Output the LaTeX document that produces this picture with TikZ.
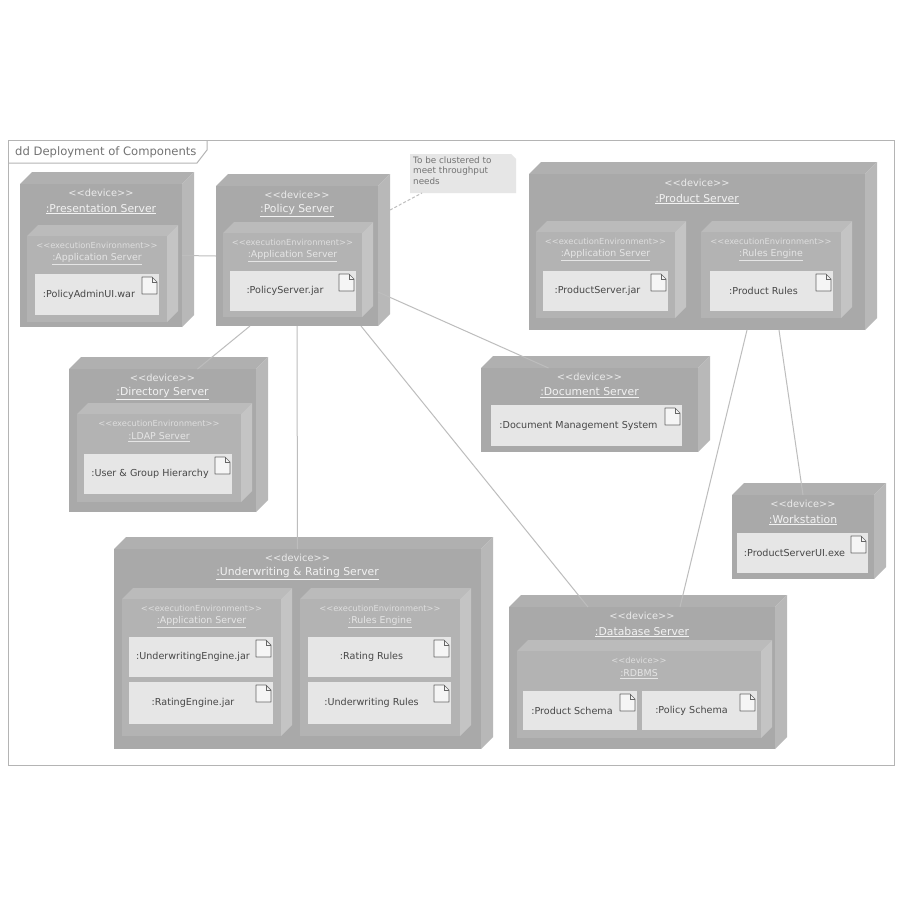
\documentclass[tikz,border=0pt]{standalone}
\usepackage{fontspec}
\setmainfont{DejaVu Sans}[Ligatures=NoCommon]
\definecolor{devF}{HTML}{A9A9A9}
\definecolor{devT}{HTML}{B0B0B0}
\definecolor{devS}{HTML}{B8B8B8}
\definecolor{envF}{HTML}{B3B3B3}
\definecolor{envT}{HTML}{BBBBBB}
\definecolor{envS}{HTML}{C4C4C4}
\definecolor{artF}{HTML}{E6E6E6}
\definecolor{lineC}{HTML}{BDBDBD}
\definecolor{frameC}{HTML}{B4B4B4}
\newcommand{\stereo}[1]{<{}<#1>{}>}
\tikzset{
  boxnode/.style={inner sep=0pt,outer sep=0pt,draw=none},
  stereotxt/.style={inner sep=0pt,text=#1,font=\fontsize{9.8}{11}\selectfont},
  nametxt/.style={inner sep=0pt,text=#1,font=\fontsize{10.8}{12}\selectfont},
  envstereotxt/.style={inner sep=0pt,text=#1,font=\fontsize{8.3}{10}\selectfont},
  envnametxt/.style={inner sep=0pt,text=#1,font=\fontsize{9.4}{11}\selectfont},
  arttxt/.style={boxnode,fill=artF,text=black!72,font=\fontsize{9.6}{11}\selectfont,align=center},
  conn/.style={draw=lineC,line width=1pt},
  icon/.style={draw=black!60,fill=white!96!black,line width=0.7pt,line join=round},
}
% solid box: name, x0, y0, x1, y1, depth, front, top, side
\newcommand{\solid}[9]{%
  \fill[#8] (#2,#3) -- (#2+#6,#3-#6) -- (#4+#6,#3-#6) -- (#4,#3) -- cycle;
  \fill[#9] (#4,#3) -- (#4+#6,#3-#6) -- (#4+#6,#5-#6) -- (#4,#5) -- cycle;
  \node[boxnode,fill=#7,minimum width={(#4-#2)*1pt},minimum height={(#5-#3)*1pt}] (#1) at ({(#2+#4)/2},{(#3+#5)/2}) {};
}
% device: name, x0,y0,x1,y1, label
\newcommand{\device}[6]{%
  \solid{#1}{#2}{#3}{#4}{#5}{12}{devF}{devT}{devS}
  \node[stereotxt=white!92!black] (#1s) at ({(#2+#4)/2},#3+9) {\stereo{device}};
  \node[nametxt=white!95!black] (#1n) at ({(#2+#4)/2},#3+25) {\underline{#6}};
}
% env: name, x0,y0,x1,y1, stereotype, label
\newcommand{\envbox}[7]{%
  \solid{#1}{#2}{#3}{#4}{#5}{11}{envF}{envT}{envS}
  \node[envstereotxt=white!87!black] (#1s) at ({(#2+#4)/2},#3+9) {\stereo{#6}};
  \node[envnametxt=white!90!black] (#1n) at ({(#2+#4)/2},#3+23) {\underline{#7}};
}
% artifact: name, x0,y0,x1,y1, text
\newcommand{\artifact}[6]{%
  \node[arttxt,minimum width={(#4-#2)*1pt},minimum height={(#5-#3)*1pt}] (#1) at ({(#2+#4)/2},{(#3+#5)/2}) {#6\hspace{16pt}};
  \draw[icon] (#4-17,#3+3) -- (#4-7,#3+3) -- (#4-2,#3+8) -- (#4-2,#3+20) -- (#4-17,#3+20) -- cycle;
  \draw[draw=black!60,line width=0.6pt] (#4-7,#3+3) -- (#4-7,#3+8) -- (#4-2,#3+8);
}
\begin{document}
\begin{tikzpicture}[x=1pt,y=-1pt]
\useasboundingbox (0,0) rectangle (900,900);
\fill[white] (0,0) rectangle (900,900);
% frame
\draw[draw=frameC,line width=1pt] (8,140) rectangle (894,765);
\node[boxnode,minimum width=199pt,minimum height=23pt] (frametab) at (107.5,151.5) {};
\draw[draw=frameC,line width=1pt] (207,140) -- (207,150) -- (197,163) -- (8,163);
\node[inner sep=0pt,anchor=west,text=black!55,font=\fontsize{11.6}{13}\selectfont] (frametitle) at (15,152.5) {dd Deployment of Components};

% Presentation Server
\device{pres}{20}{184}{182}{327}{:Presentation Server}
\envbox{presA}{27}{236}{167}{322}{executionEnvironment}{:Application Server}
\artifact{presW}{35}{274}{159}{315}{:PolicyAdminUI.war}

% Policy Server
\device{pol}{216}{186}{378}{326}{:Policy Server}
\envbox{polA}{223}{233}{362}{317}{executionEnvironment}{:Application Server}
\artifact{polJ}{230}{271}{356}{311}{:PolicyServer.jar}

% Directory Server
\device{dir}{69}{369}{256}{512}{:Directory Server}
\envbox{dirA}{77}{414}{241}{502}{executionEnvironment}{:LDAP Server}
\artifact{dirU}{84}{454}{232}{494}{:User \& Group Hierarchy}

% Product Server
\device{prod}{529}{174}{865}{330}{:Product Server}
\envbox{prodA}{536}{232}{675}{318}{executionEnvironment}{:Application Server}
\artifact{prodJ}{543}{271}{668}{311}{:ProductServer.jar}
\envbox{prodR}{701}{232}{841}{318}{executionEnvironment}{:Rules Engine}
\artifact{prodP}{710}{271}{833}{311}{:Product Rules}

% Document Server
\device{doc}{481}{368}{698}{452}{:Document Server}
\artifact{docM}{491}{405}{682}{446}{:Document Management System}

% Workstation
\device{work}{732}{495}{874}{579}{:Workstation}
\artifact{workU}{737}{533}{868}{573}{:ProductServerUI.exe}

% Underwriting & Rating Server
\device{uw}{114}{549}{481}{749}{:Underwriting \& Rating Server}
\envbox{uwA}{122}{599}{281}{736}{executionEnvironment}{:Application Server}
\artifact{uwE}{129}{637}{273}{677}{:UnderwritingEngine.jar}
\artifact{uwR}{129}{682}{273}{724}{:RatingEngine.jar}
\envbox{uwB}{300}{599}{460}{736}{executionEnvironment}{:Rules Engine}
\artifact{uwS}{308}{637}{451}{677}{:Rating Rules}
\artifact{uwT}{308}{682}{451}{724}{:Underwriting Rules}

% Database Server
\device{db}{509}{607}{775}{749}{:Database Server}
\envbox{dbR}{517}{651}{761}{738}{device}{:RDBMS}
\artifact{dbP}{523}{691}{637}{730}{:Product Schema}
\artifact{dbQ}{642}{691}{757}{730}{:Policy Schema}

% Note
\fill[artF] (410,154) -- (511,154) -- (516,159) -- (516,193) -- (410,193) -- cycle;
\node[boxnode,minimum width=106pt,minimum height=39pt] (note) at (463,173.5) {};
\node[inner sep=0pt,anchor=north west,text=black!55,align=left,font=\fontsize{8.8}{10.5}\selectfont] (notetxt) at (413,156.5) {To be clustered to\\meet throughput\\needs};

% Connectors
\draw[conn] (pres.east) -- (pol.west);
\draw[conn] ([xshift=-47pt]pol.south) -- ([xshift=35pt]dir.north);
\draw[conn] (pol.south) -- (uw.north);
\draw[conn] ([xshift=64pt]pol.south) -- ([xshift=-54pt]db.north);
\draw[conn] ([yshift=-36pt]pol.east) -- ([xshift=-41pt]doc.north);
\draw[conn] ([xshift=50pt]prod.south) -- ([xshift=38pt]db.north);
\draw[conn] ([xshift=82pt]prod.south) -- (work.north);
\draw[conn,dashed,dash pattern=on 3pt off 2pt] ([xshift=12pt,yshift=46pt]pol.east) -- ([xshift=-41pt]note.south);
\end{tikzpicture}
\end{document}
